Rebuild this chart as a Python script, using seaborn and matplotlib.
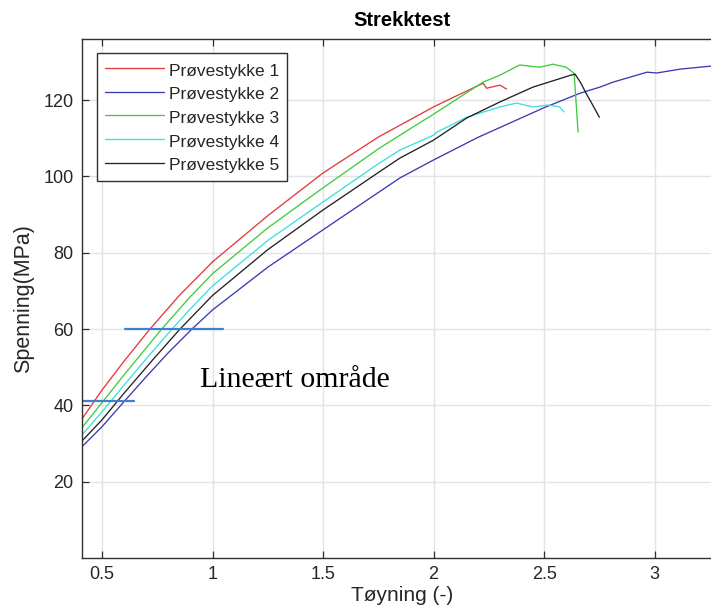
import matplotlib
matplotlib.use("Agg")
import matplotlib.pyplot as plt
import seaborn as sns
import pandas as pd

# ---- data ----
labels = ["Prøvestykke 1", "Prøvestykke 2", "Prøvestykke 3", "Prøvestykke 4", "Prøvestykke 5"]

p1_strain = [0.41, 0.50, 0.60, 0.717, 0.85, 1.00, 1.25, 1.50, 1.75, 2.00, 2.10, 2.224, 2.24, 2.30, 2.33]
p1_stress = [36.5, 44.0, 51.6, 60.0, 68.8, 77.6, 89.7, 100.9, 110.3, 118.2, 121.0, 124.4, 123.1, 123.9, 122.9]

p2_strain = [0.41, 0.50, 0.60, 0.70, 0.80, 0.907, 1.00, 1.25, 1.50, 1.848, 2.00, 2.20, 2.50, 2.663, 2.753, 2.812, 2.966, 3.011, 3.115, 3.256, 3.31]
p2_stress = [29.2, 34.4, 41.0, 47.5, 53.8, 60.0, 65.0, 76.2, 86.0, 99.6, 104.3, 110.2, 118.0, 121.8, 123.4, 124.7, 127.3, 127.1, 128.1, 128.9, 129.1]

p3_strain = [0.41, 0.50, 0.60, 0.77, 0.90, 1.00, 1.25, 1.50, 1.75, 1.848, 2.00, 2.224, 2.30, 2.39, 2.48, 2.54, 2.60, 2.636, 2.654]
p3_stress = [34.2, 40.7, 48.0, 60.0, 68.5, 74.5, 86.5, 97.0, 107.2, 110.8, 116.3, 124.7, 126.5, 129.2, 128.6, 129.4, 128.6, 127.0, 111.6]

p4_strain = [0.41, 0.50, 0.60, 0.70, 0.817, 0.90, 1.00, 1.25, 1.50, 1.75, 1.848, 2.00, 2.015, 2.15, 2.30, 2.375, 2.45, 2.52, 2.57, 2.59]
p4_stress = [32.3, 38.3, 45.3, 52.2, 60.0, 65.3, 71.3, 83.2, 93.3, 103.3, 106.9, 110.8, 111.6, 115.5, 118.2, 119.2, 118.2, 118.7, 118.2, 116.9]

p5_strain = [0.41, 0.50, 0.60, 0.72, 0.853, 1.00, 1.25, 1.50, 1.75, 1.848, 2.00, 2.15, 2.30, 2.45, 2.62, 2.64, 2.665, 2.69, 2.72, 2.75]
p5_stress = [30.7, 36.2, 43.2, 51.3, 60.0, 68.8, 80.8, 91.2, 101.0, 104.8, 109.5, 115.3, 119.5, 123.4, 126.5, 126.8, 124.6, 121.8, 118.7, 115.5]

line_colors = ["#e23b3b", "#3b3bb0", "#3fcc3f", "#3fdede", "#222222"]

marker_hi_strain = [0.604, 1.048]
marker_hi_stress = [60.0, 60.0]
marker_lo_strain = [0.41, 0.645]
marker_lo_stress = [41.2, 41.2]

x_ticks = [0.5, 1, 1.5, 2, 2.5, 3]
x_ticklabels = ["0.5", "1", "1.5", "2", "2.5", "3"]
y_ticks = [20, 40, 60, 80, 100, 120]

# ---- build table ----
frames = []
for lab, xs, ys in zip(labels,
                       [p1_strain, p2_strain, p3_strain, p4_strain, p5_strain],
                       [p1_stress, p2_stress, p3_stress, p4_stress, p5_stress]):
    frames.append(pd.DataFrame({"strain": xs, "stress": ys, "serie": lab}))
df = pd.concat(frames, ignore_index=True)

sns.set_theme(style="whitegrid")
plt.rcParams["font.family"] = ["Liberation Sans", "DejaVu Sans"]

fig = plt.figure(figsize=(7.11, 6.06), dpi=100)
ax = fig.add_axes([82 / 711, 48 / 606, 640 / 711, 519 / 606])

sns.lineplot(data=df, x="strain", y="stress", hue="serie", palette=line_colors,
             sort=False, estimator=None, linewidth=0.95, ax=ax, legend=True)

ax.plot(marker_hi_strain, marker_hi_stress, color="#3f7fcc", linewidth=1.6, clip_on=True)
ax.plot(marker_lo_strain, marker_lo_stress, color="#3f7fcc", linewidth=1.6, clip_on=True)

ax.text(0.943, 44.9, "Lineært område", fontsize=21.5, family=["Liberation Serif", "DejaVu Serif"],
        color="black", ha="left", va="baseline")

ax.set_xlim(0.4095, 3.305)
ax.set_ylim(0, 136)
ax.set_xticks(x_ticks)
ax.set_xticklabels(x_ticklabels)
ax.set_yticks(y_ticks)

ax.set_facecolor("white")
ax.grid(True, color="#e3e3e3", linewidth=1.0)
for side in ["left", "bottom", "top", "right"]:
    ax.spines[side].set_visible(True)
    ax.spines[side].set_color("#303030")
    ax.spines[side].set_linewidth(1.0)
ax.tick_params(axis="both", which="both", direction="in", length=5, width=0.9,
               color="#303030", labelsize=13, labelcolor="#262626",
               top=True, right=True, bottom=True, left=True, pad=6)

ax.set_title("Strekktest", fontsize=14.5, fontweight="bold", color="black", pad=9)
ax.set_xlabel("Tøyning (-)", fontsize=15, color="#262626", labelpad=2)
ax.set_ylabel("Spenning(MPa)", fontsize=15.5, color="#262626", labelpad=7)

handles, labs = ax.get_legend_handles_labels()
leg = ax.legend(handles[:5], labs[:5], loc="upper left",
                bbox_to_anchor=(15 / 640, 1 - 14 / 519), borderaxespad=0,
                fontsize=12.5, handlelength=3.4, handleheight=1.25, handletextpad=0.3,
                labelspacing=0.3, borderpad=0.45, fancybox=False,
                framealpha=1, edgecolor="#303030", title=None)
leg.get_frame().set_linewidth(1.0)
for t in leg.get_texts():
    t.set_color("#262626")

fig.savefig("out.png", dpi=100, facecolor="white")
